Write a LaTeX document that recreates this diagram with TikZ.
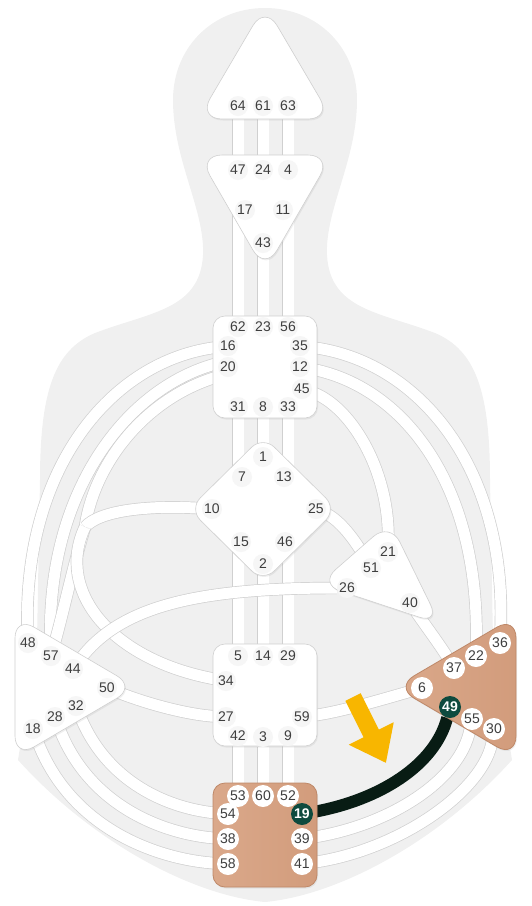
\documentclass[tikz,border=0pt]{standalone}
\usepackage{fontspec}
\setmainfont{Liberation Sans}
\usetikzlibrary{shadows,arrows.meta,calc}
\definecolor{body_grey}{RGB}{240,240,240}
\definecolor{chan_line}{RGB}{208,208,208}
\definecolor{gate_fill}{RGB}{246,246,246}
\definecolor{gate_text}{RGB}{62,62,62}
\definecolor{tan_l}{RGB}{218,168,138}
\definecolor{tan_m}{RGB}{234,196,170}
\definecolor{tan_r}{RGB}{210,156,124}
\definecolor{tan_edge}{RGB}{190,136,104}
\definecolor{deep_green}{RGB}{14,74,62}
\definecolor{active_black}{RGB}{8,28,20}
\definecolor{hint_orange}{RGB}{248,182,0}
\pgfdeclarelayer{body}
\pgfdeclarelayer{chans}
\pgfsetlayers{body,chans,main}
\tikzstyle{gt}=[circle,fill=gate_fill,text=gate_text,inner sep=0pt,
  minimum size=20pt,font=\fontsize{14}{14}\selectfont]
\tikzstyle{gtw}=[gt,fill=white,minimum size=22pt]
\tikzstyle{gtd}=[gt,fill=deep_green,text=white,minimum size=22pt,
  font=\fontsize{14}{14}\selectfont\bfseries]
\tikzstyle{wc}=[fill=white,draw=chan_line,line width=0.6pt,rounded corners=12pt,
  drop shadow={opacity=0.12,shadow xshift=1pt,shadow yshift=-1.5pt}]
\tikzstyle{cc}=[left color=tan_l,middle color=tan_m,right color=tan_r,
  draw=tan_edge,line width=0.8pt,rounded corners=12pt,
  drop shadow={opacity=0.12,shadow xshift=1pt,shadow yshift=-1.5pt}]
\tikzstyle{ch}=[draw=chan_line,double=white,double distance=11pt,line width=0.7pt]
\tikzstyle{chon}=[draw=active_black,line width=12pt]

\begin{document}
\begin{tikzpicture}[x=1pt,y=-1pt]
    \useasboundingbox (0,0) rectangle (532,906);
    % silhouette
    \begin{pgfonlayer}{body}
    \fill[body_grey] (265,8) .. controls (318,8) and (357,48) .. (357,100)
      .. controls (357,160) and (325,210) .. (327,255)
      .. controls (330,310) and (380,312) .. (435,333)
      .. controls (475,350) and (490,390) .. (490,480)
      -- (493,640) -- (512,760)
      .. controls (440,840) and (340,895) .. (265,902)
      .. controls (190,895) and (90,840) .. (18,760)
      -- (37,640) -- (40,480)
      .. controls (40,390) and (55,350) .. (95,333)
      .. controls (150,312) and (200,310) .. (203,255)
      .. controls (205,210) and (173,160) .. (173,100)
      .. controls (173,48) and (212,8) .. (265,8) -- cycle;
    \end{pgfonlayer}

    % centres
    \path[style=wc,rounded corners=24pt] (265,5) -- (332,119) -- (198,119) -- cycle;
    \path[style=wc,rounded corners=24pt] (198,155) -- (332,155) -- (265,271) -- cycle;
    \path[style=wc] (213,316) rectangle (317,418);
    \path[style=wc,rounded corners=16pt] (263,436) -- (337,509) -- (263,582) -- (189,509) -- cycle;
    \path[style=wc,rounded corners=22pt] (390,522) -- (440,624) -- (319,584) -- cycle;
    \path[style=wc] (213,644) rectangle (317,746);
    \path[style=wc,rounded corners=22pt] (15,616) -- (136,687) -- (15,758) -- cycle;
    \path[style=cc,rounded corners=22pt] (516,616) -- (516,758) -- (395,687) -- cycle;
    \path[style=cc] (213,783) rectangle (317,887);

    % head
    \node [style=gt] (g64) at (238,106) {64};
    \node [style=gt] (g61) at (263,106) {61};
    \node [style=gt] (g63) at (288,106) {63};
    % ajna
    \node [style=gt] (g47) at (238,170) {47};
    \node [style=gt] (g24) at (263,170) {24};
    \node [style=gt] (g4) at (288,170) {4};
    \node [style=gt] (g17) at (245,210) {17};
    \node [style=gt] (g11) at (283,210) {11};
    \node [style=gt] (g43) at (263,243) {43};
    % throat
    \node [style=gt] (g62) at (238,327) {62};
    \node [style=gt] (g23) at (263,327) {23};
    \node [style=gt] (g56) at (288,327) {56};
    \node [style=gt] (g16) at (228,346) {16};
    \node [style=gt] (g35) at (300,346) {35};
    \node [style=gt] (g20) at (228,367) {20};
    \node [style=gt] (g12) at (300,367) {12};
    \node [style=gt] (g45) at (302,389) {45};
    \node [style=gt] (g31) at (238,407) {31};
    \node [style=gt] (g8) at (263,407) {8};
    \node [style=gt] (g33) at (288,407) {33};
    % g centre
    \node [style=gt] (g1) at (263,457) {1};
    \node [style=gt] (g7) at (242,477) {7};
    \node [style=gt] (g13) at (284,477) {13};
    \node [style=gt] (g10) at (212,509) {10};
    \node [style=gt] (g25) at (316,509) {25};
    \node [style=gt] (g15) at (241,542) {15};
    \node [style=gt] (g46) at (285,542) {46};
    \node [style=gt] (g2) at (263,564) {2};
    % heart
    \node [style=gt] (g21) at (388,552) {21};
    \node [style=gt] (g51) at (371,568) {51};
    \node [style=gt] (g26) at (347,588) {26};
    \node [style=gt] (g40) at (410,603) {40};
    % sacral
    \node [style=gt] (g5) at (238,656) {5};
    \node [style=gt] (g14) at (263,656) {14};
    \node [style=gt] (g29) at (288,656) {29};
    \node [style=gt] (g34) at (226,681) {34};
    \node [style=gt] (g27) at (226,717) {27};
    \node [style=gt] (g59) at (302,717) {59};
    \node [style=gt] (g42) at (238,736) {42};
    \node [style=gt] (g3) at (263,737) {3};
    \node [style=gt] (g9) at (288,736) {9};
    % spleen
    \node [style=gt] (g48) at (28,643) {48};
    \node [style=gt] (g57) at (51,656) {57};
    \node [style=gt] (g44) at (73,669) {44};
    \node [style=gt] (g50) at (107,688) {50};
    \node [style=gt] (g32) at (76,706) {32};
    \node [style=gt] (g28) at (55,717) {28};
    \node [style=gt] (g18) at (33,729) {18};
    % solar plexus
    \node [style=gtw] (g36) at (500,643) {36};
    \node [style=gtw] (g22) at (476,656) {22};
    \node [style=gtw] (g37) at (454,668) {37};
    \node [style=gtw] (g6) at (422,688) {6};
    \node [style=gtd] (g49) at (450,707) {49};
    \node [style=gtw] (g55) at (472,719) {55};
    \node [style=gtw] (g30) at (494,729) {30};
    % root
    \node [style=gtw] (g53) at (238,796) {53};
    \node [style=gtw] (g60) at (263,796) {60};
    \node [style=gtw] (g52) at (288,796) {52};
    \node [style=gtw] (g54) at (228,814) {54};
    \node [style=gtd] (g19) at (302,814) {19};
    \node [style=gtw] (g38) at (228,839) {38};
    \node [style=gtw] (g39) at (302,839) {39};
    \node [style=gtw] (g58) at (228,864) {58};
    \node [style=gtw] (g41) at (302,864) {41};

    \coordinate (jn) at (85,527);
    \coordinate (arrs) at (353,697);
    \coordinate (arre) at (386,763);

    % channels
    \begin{pgfonlayer}{chans}
    \draw [style=ch] (g64) to (g47);
    \draw [style=ch] (g61) to (g24);
    \draw [style=ch] (g63) to (g4);
    \draw [style=ch] (g62) to (g62 |- g17);
    \draw [style=ch] (g23) to (g43);
    \draw [style=ch] (g56) to (g56 |- g11);
    \draw [style=ch] (g31) to (g31 |- g7);
    \draw [style=ch] (g8) to (g1);
    \draw [style=ch] (g33) to (g33 |- g13);
    \draw [style=ch] (g5) to (g5 |- g15);
    \draw [style=ch] (g14) to (g2);
    \draw [style=ch] (g29) to (g29 |- g46);
    \draw [style=ch] (g42) to (g53);
    \draw [style=ch] (g3) to (g60);
    \draw [style=ch] (g9) to (g52);
    \draw [style=ch] (g16) .. controls (110,360) and (22,470) .. (g48);
    \draw [style=ch] ($(g20)+(0,-6)$) .. controls (130,380) and (45,490) .. (g57);
    \draw [style=ch] ($(g20)+(0,7)$) .. controls (150,392) and (95,460) .. (jn);
    \draw [style=ch] (g10) .. controls (150,505) and (100,510) .. (jn);
    \draw [style=ch] (jn) .. controls (72,570) and (64,610) .. (g57);
    \draw [style=ch] (jn) .. controls (55,590) and (110,660) .. (g34);
    \draw [style=ch] (g44) .. controls (120,605) and (200,588) .. (g26);
    \draw [style=ch] (g50) .. controls (150,705) and (190,715) .. (g27);
    \draw [style=ch] (g32) .. controls (110,790) and (180,810) .. (g54);
    \draw [style=ch] (g28) .. controls (90,810) and (170,835) .. (g38);
    \draw [style=ch] (g18) .. controls (70,830) and (160,860) .. (g58);
    \draw [style=ch] (g35) .. controls (420,360) and (508,470) .. (g36);
    \draw [style=ch] (g12) .. controls (400,385) and (480,480) .. (g22);
    \draw [style=ch] (g45) .. controls (350,405) and (390,470) .. (g21);
    \draw [style=ch] (g25) .. controls (340,520) and (355,540) .. (g51);
    \draw [style=ch] (g40) .. controls (425,625) and (440,645) .. (g37);
    \draw [style=ch] (g6) .. controls (380,700) and (340,712) .. (g59);
    \draw [style=ch] (g39) .. controls (390,825) and (460,780) .. (g55);
    \draw [style=ch] (g41) .. controls (400,850) and (485,790) .. (g30);
    \draw [style=chon] (g19) .. controls (380,800) and (435,765) .. (g49);
    \end{pgfonlayer}

    \draw [hint_orange,line width=17pt,-{Triangle[length=33pt,width=48pt]}] (arrs) to (arre);
\end{tikzpicture}
\end{document}
